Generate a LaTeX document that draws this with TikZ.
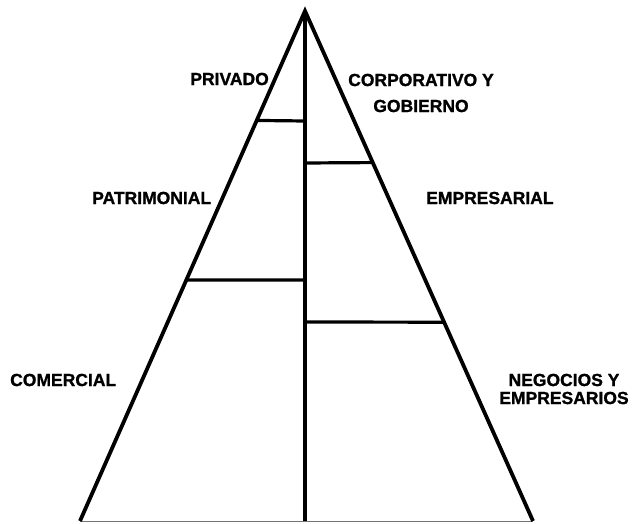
\documentclass[tikz,border=0pt]{standalone}
\usepackage{fontspec}
\setmainfont{Liberation Sans}[BoldFeatures={FakeBold=1.2}]
\usetikzlibrary{calc}
\begin{document}
\begin{tikzpicture}[x=1pt,y=-1pt,
  edge/.style={line width=3.8pt, line join=miter, line cap=butt},
  divider/.style={line width=3.2pt},
  baseline/.style={line width=1pt, draw=black!55},
  lbl/.style={inner sep=0pt, font=\bfseries\fontsize{17.5}{18}\selectfont},
  lbltwo/.style={inner sep=0pt, align=center, font=\bfseries\fontsize{17.5}{26}\selectfont}]
\useasboundingbox (0,0) rectangle (635,524);
\coordinate (apex) at (305,11);
\coordinate (bl) at (80,521);
\coordinate (br) at (533,521);
\coordinate (bc) at (305,521);
% base
\draw[baseline] (bl) -- (br);
% sides
\draw[edge] (bl) -- (apex) -- (br);
% centre line
\draw[line width=3.4pt] (apex) -- (bc);
% dividers
\coordinate (l1) at ($(apex)!0.2146!(bl)$);
\coordinate (l2) at ($(apex)!0.5276!(bl)$);
\coordinate (r1) at ($(apex)!0.2972!(br)$);
\coordinate (r2) at ($(apex)!0.6102!(br)$);
\coordinate (cl1) at (305,121);
\coordinate (cl2) at (305,280);
\coordinate (cr1) at (305,163);
\coordinate (cr2) at (305,322);
\draw[divider] (l1) -- (cl1);
\draw[divider] (l2) -- (cl2);
\draw[divider] (r1) -- (cr1);
\draw[divider] (r2) -- (cr2);
% labels
\node[lbl, anchor=east] (privado) at (269,79) {PRIVADO};
\node[lbltwo] (corp) at (421,93) {CORPORATIVO Y\\GOBIERNO};
\node[lbl, anchor=west] (patri) at (92,198) {PATRIMONIAL};
\node[lbl, anchor=west] (empre) at (426,198) {EMPRESARIAL};
\node[lbl, anchor=west] (comer) at (10,380) {COMERCIAL};
\node[lbl, align=center] (nego) at (564,389) {NEGOCIOS Y\\EMPRESARIOS};
\end{tikzpicture}
\end{document}
